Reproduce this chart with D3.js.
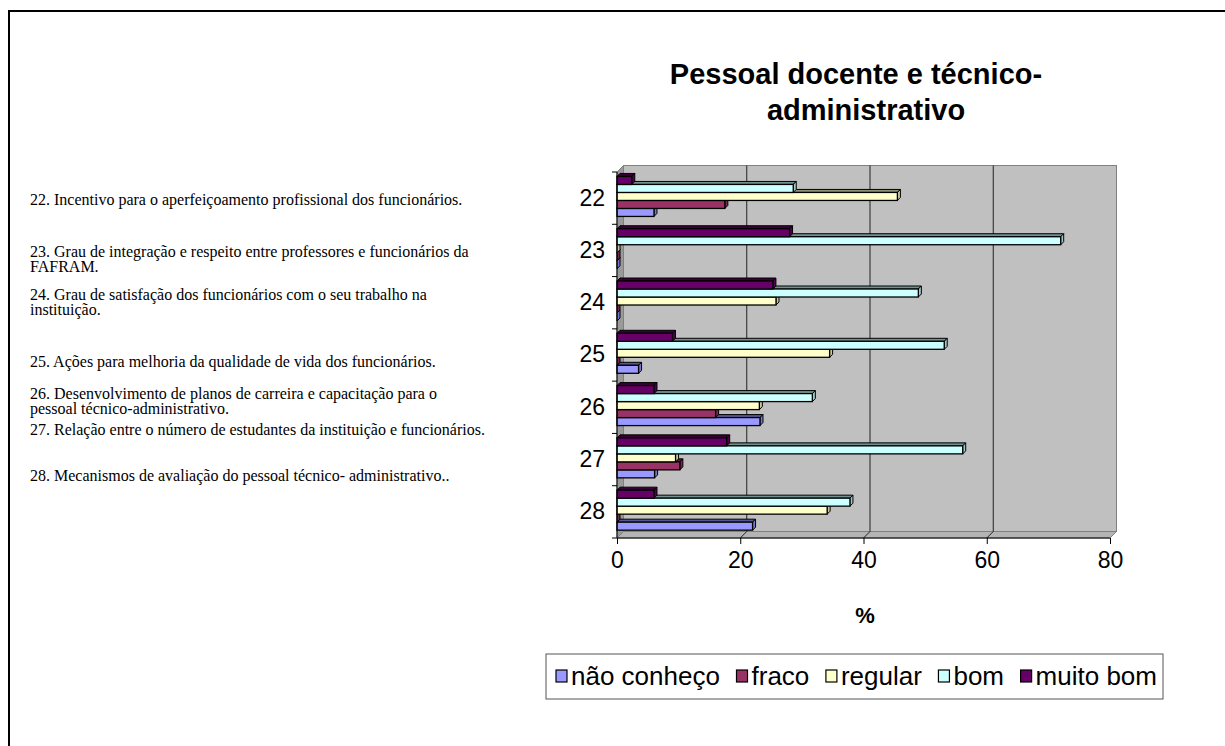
<!DOCTYPE html>
<html>
<head>
<meta charset="utf-8">
<script src="https://cdn.jsdelivr.net/npm/d3@7"></script>
<style>
  html, body { margin: 0; padding: 0; background: #fff; }
  svg { display: block; }
</style>
</head>
<body>
<svg id="chart" width="1225" height="746"></svg>
<script>
// Question numbers (categories) and the share of answers per rating, in %
const categories = ["22", "23", "24", "25", "26", "27", "28"];
const naoConheco = [6.0, 0, 0, 3.5, 23.2, 6.1, 22.0];
const fraco      = [17.5, 0, 0, 0, 16.0, 10.2, 0];
const regular    = [45.5, 0, 25.8, 34.5, 23.1, 9.5, 34.1];
const bom        = [28.6, 72.0, 48.9, 53.1, 31.7, 56.1, 37.8];
const muitoBom   = [2.4, 28.0, 25.3, 9.0, 6.0, 17.8, 6.0];

const seriesNames = ["não conheço", "fraco", "regular", "bom", "muito bom"];
const seriesColors = ["#9999FF", "#993366", "#FFFFCC", "#CCFFFF", "#660066"];
const xTicks = [0, 20, 40, 60, 80];

const questions = [
  ["22. Incentivo para o aperfeiçoamento profissional dos funcionários."],
  ["23. Grau de integração e respeito entre professores e funcionários da", "FAFRAM."],
  ["24. Grau de satisfação dos funcionários com o seu trabalho na", "instituição."],
  ["25. Ações para melhoria da qualidade de vida dos funcionários."],
  ["26. Desenvolvimento de planos de carreira e capacitação para o", "pessoal técnico-administrativo."],
  ["27. Relação entre o número de estudantes da instituição e funcionários."],
  ["28. Mecanismos de avaliação do pessoal técnico- administrativo.."]
];
const questionY = [205, 257, 300, 367, 399, 435, 481];

const series = [naoConheco, fraco, regular, bom, muitoBom].map((vals, i) => ({
  name: seriesNames[i], color: seriesColors[i], values: vals
}));

const svg = d3.select("#chart");
const sans = "'Liberation Sans', Arial, sans-serif";

// page frame (top and left edges)
svg.append("line").attr("x1", 8).attr("x2", 1225).attr("y1", 11).attr("y2", 11)
  .attr("stroke", "#000").attr("stroke-width", 2);
svg.append("line").attr("x1", 9).attr("x2", 9).attr("y1", 10).attr("y2", 746)
  .attr("stroke", "#000").attr("stroke-width", 2);

// question texts on the left
const qg = svg.append("g").attr("font-family", "'Liberation Serif', 'Times New Roman', serif")
  .attr("font-size", 16).attr("fill", "#000");
questions.forEach((lines, i) => {
  lines.forEach((t, j) => {
    qg.append("text").attr("x", 30).attr("y", questionY[i] + j * 15).text(t);
  });
});

// title
const title = svg.append("text").attr("font-family", sans)
  .attr("font-weight", "bold").attr("font-size", 29).attr("text-anchor", "middle").attr("fill", "#000");
title.append("tspan").attr("x", 856).attr("y", 84).text("Pessoal docente e técnico-");
title.append("tspan").attr("x", 866).attr("y", 120).text("administrativo");

// plot geometry (front plane) and 3D depth offset
const pLeft = 617, pRight = 1110, pTop = 172, pBottom = 538;
const dx = 6.5, dy = 6.5;

const x = d3.scaleLinear().domain([0, 80]).range([pLeft, pRight]);
const y = d3.scaleBand().domain(categories).range([pTop, pBottom]).padding(0);
const inner = d3.scaleBand().domain(["muito bom", "bom", "regular", "fraco", "não conheço"])
  .range([y.bandwidth() * 0.085, y.bandwidth() * 0.85]).padding(0);

const plot = svg.append("g");

// back wall
plot.append("rect").attr("x", pLeft + dx).attr("y", pTop - dy)
  .attr("width", pRight - pLeft).attr("height", pBottom - pTop)
  .attr("fill", "#C0C0C0").attr("stroke", "#808080").attr("stroke-width", 1);
// left wall
plot.append("polygon")
  .attr("points", [[pLeft, pTop], [pLeft + dx, pTop - dy], [pLeft + dx, pBottom - dy], [pLeft, pBottom]].join(" "))
  .attr("fill", "#9a9a9a").attr("stroke", "#808080");
// floor
plot.append("polygon")
  .attr("points", [[pLeft, pBottom], [pLeft + dx, pBottom - dy], [pRight + dx, pBottom - dy], [pRight, pBottom]].join(" "))
  .attr("fill", "#b4b4b4").attr("stroke", "#808080");

// gridlines on the wall and floor
xTicks.filter(t => t > 0 && t < 80).forEach(t => {
  plot.append("line").attr("x1", x(t) + dx).attr("x2", x(t) + dx)
    .attr("y1", pTop - dy).attr("y2", pBottom - dy).attr("stroke", "#222").attr("stroke-width", 1);
  plot.append("line").attr("x1", x(t) + dx).attr("x2", x(t))
    .attr("y1", pBottom - dy).attr("y2", pBottom).attr("stroke", "#222").attr("stroke-width", 1);
});

// bars: each has a front face, a thin top face and a right end face
const bd = 3;
const barsG = plot.append("g");
categories.forEach((cat, ci) => {
  series.forEach(s => {
    const v = s.values[ci];
    const y0 = y(cat) + inner(s.name);
    const h = inner.bandwidth();
    const x0 = x(0), x1 = x(v);
    const c = d3.color(s.color);
    const g = barsG.append("g");
    g.append("polygon")
      .attr("points", [[x0, y0], [x0 + bd, y0 - bd], [x1 + bd, y0 - bd], [x1, y0]].join(" "))
      .attr("fill", c.darker(1.6)).attr("stroke", "#000").attr("stroke-width", 1);
    g.append("polygon")
      .attr("points", [[x1, y0], [x1 + bd, y0 - bd], [x1 + bd, y0 + h - bd], [x1, y0 + h]].join(" "))
      .attr("fill", c.darker(0.7)).attr("stroke", "#000").attr("stroke-width", 1);
    g.append("rect").attr("x", x0).attr("y", y0).attr("width", Math.max(0, x1 - x0)).attr("height", h)
      .attr("fill", s.color).attr("stroke", "#000").attr("stroke-width", 1.3);
  });
});

// axes
const xAxis = d3.axisBottom(x).tickValues(xTicks).tickSize(6).tickPadding(8);
const xg = svg.append("g").attr("transform", `translate(0,${pBottom})`).call(xAxis);
xg.select(".domain").attr("stroke", "#000").attr("d", `M${pLeft - 5},0H${pRight}`);
xg.selectAll(".tick line").attr("stroke", "#000");
xg.selectAll("text").attr("font-family", sans).attr("font-size", 23).attr("fill", "#000");

const yAxis = d3.axisLeft(y).tickSize(0).tickPadding(12);
const yg = svg.append("g").attr("transform", `translate(${pLeft},0)`).call(yAxis);
yg.select(".domain").attr("stroke", "#000").attr("d", `M0,${pTop}V${pBottom}`);
yg.selectAll("text").attr("font-family", sans).attr("font-size", 23).attr("fill", "#000");
// category boundary ticks
categories.forEach(cat => {
  yg.append("line").attr("x1", -5).attr("x2", 0).attr("y1", y(cat)).attr("y2", y(cat))
    .attr("stroke", "#000");
});

// axis title
svg.append("text").attr("x", 865).attr("y", 623).attr("text-anchor", "middle")
  .attr("font-family", sans).attr("font-weight", "bold").attr("font-size", 22).text("%");

// legend: swatch + label items spread across the box
const lg = svg.append("g");
lg.append("rect").attr("x", 546).attr("y", 654).attr("width", 617).attr("height", 45)
  .attr("fill", "#fff").attr("stroke", "#555").attr("stroke-width", 1);
const legStart = 556, legEnd = 1157, swW = 15;
const labels = series.map(s => lg.append("text").attr("y", 685)
  .attr("font-family", sans).attr("font-size", 26).attr("fill", "#000").text(s.name));
const widths = labels.map(t => t.node().getComputedTextLength());
const gap = (legEnd - legStart - d3.sum(widths) - swW * series.length) / (series.length - 1);
let lx = legStart;
series.forEach((s, i) => {
  lg.append("rect").attr("x", lx).attr("y", 670).attr("width", 11).attr("height", 12)
    .attr("fill", s.color).attr("stroke", "#000").attr("stroke-width", 1.2);
  labels[i].attr("x", lx + swW);
  lx += swW + widths[i] + gap;
});
</script>
</body>
</html>
